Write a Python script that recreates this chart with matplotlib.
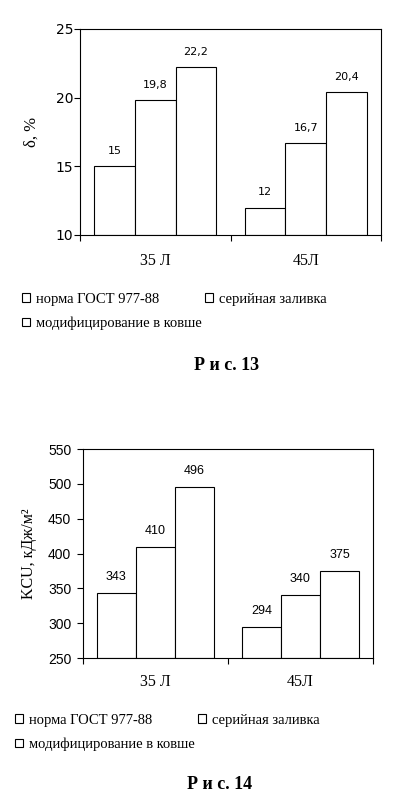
import matplotlib.pyplot as plt
import numpy as np

# data
groups = ['35 Л', '45Л']
series = ['норма ГОСТ 977-88', 'серийная заливка', 'модифицирование в ковше']
elong = [[15, 19.8, 22.2], [12, 16.7, 20.4]]          # δ, %
elong_lbl = [['15', '19,8', '22,2'], ['12', '16,7', '20,4']]
kcu = [[343, 410, 496], [294, 340, 375]]              # KCU, кДж/м2
kcu_lbl = [['343', '410', '496'], ['294', '340', '375']]

serif = 'Liberation Serif'
sans = 'Liberation Sans'

fig = plt.figure(figsize=(3.97, 8.05), dpi=100)
W, H = 397, 805


def add_ax(l, t, r, b):
    return fig.add_axes([l / W, 1 - b / H, (r - l) / W, (b - t) / H])


def draw_chart(ax, vals, lbls, ylim, yticks, ylabel, ylab_fs, ylab_x, tick_fs,
               tick_pad, lbl_fs, lbl_off, lbl_font, cat_pad):
    x = np.arange(len(groups))
    w = 0.27
    bars = []
    for k in range(len(series)):
        v = np.array([vals[g][k] for g in range(len(groups))])
        b = ax.bar(x + (k - 1) * w, v - ylim[0], w, bottom=ylim[0],
                   color='white', edgecolor='black', linewidth=0.8,
                   label=series[k])
        bars.append(b)
        for g in range(len(groups)):
            ax.annotate(lbls[g][k], (x[g] + (k - 1) * w, v[g]),
                        xytext=(0, lbl_off), textcoords='offset points',
                        ha='center', va='center', fontsize=lbl_fs,
                        family=lbl_font)
    ax.set_xlim(-0.5, 1.5)
    ax.set_ylim(*ylim)
    ax.set_yticks(yticks)
    ax.set_yticklabels([str(t) for t in yticks], family=lbl_font, fontsize=tick_fs)
    ax.tick_params(axis='y', direction='out', length=4, width=0.8, pad=tick_pad)
    ax.set_xticks(x)
    ax.set_xticklabels(groups, family=serif, fontsize=11.5)
    ax.set_xticks([-0.5, 0.5, 1.5], minor=True)
    ax.tick_params(axis='x', which='major', length=0, pad=cat_pad)
    ax.tick_params(axis='x', which='minor', direction='out', length=4, width=0.8)
    for s in ax.spines.values():
        s.set_linewidth(0.8)
    ax.set_ylabel(ylabel, family=serif, fontsize=ylab_fs)
    ax.yaxis.set_label_coords(ylab_x, 0.5)
    return bars


def add_legend(bars, x0, y0):
    fig.legend([bars[0], bars[2], bars[1]], [series[0], series[2], series[1]],
               loc='upper left', bbox_to_anchor=(x0 / W, 1 - y0 / H), ncol=2,
               frameon=False, prop={'family': serif, 'size': 10.5},
               handlelength=0.55, handleheight=0.55, handletextpad=0.4,
               labelspacing=0.75, columnspacing=0.25, borderpad=0.3)


# Рис. 13
ax1 = add_ax(80, 29, 381, 235)
b1 = draw_chart(ax1, elong, elong_lbl, (10, 25), [10, 15, 20, 25], 'δ, %', 12,
                -0.135, 10, 1.0, 8, 11, 'DejaVu Sans', 13)
add_legend(b1, 10, 281)
fig.text(227 / W, 1 - 365 / H, 'Р и с. 13', ha='center', va='center',
         family=serif, fontsize=13, fontweight='bold')

# Рис. 14
ax2 = add_ax(83, 449, 373, 658)
b2 = draw_chart(ax2, kcu, kcu_lbl, (250, 550), [250, 300, 350, 400, 450, 500, 550],
                'KCU, кДж/м²', 11.5, -0.16, 10, 4.5, 9, 11.5, sans, 11.5)
add_legend(b2, 3, 702)
fig.text(220 / W, 1 - 784 / H, 'Р и с. 14', ha='center', va='center',
         family=serif, fontsize=13, fontweight='bold')

fig.savefig('out.png', dpi=100)
